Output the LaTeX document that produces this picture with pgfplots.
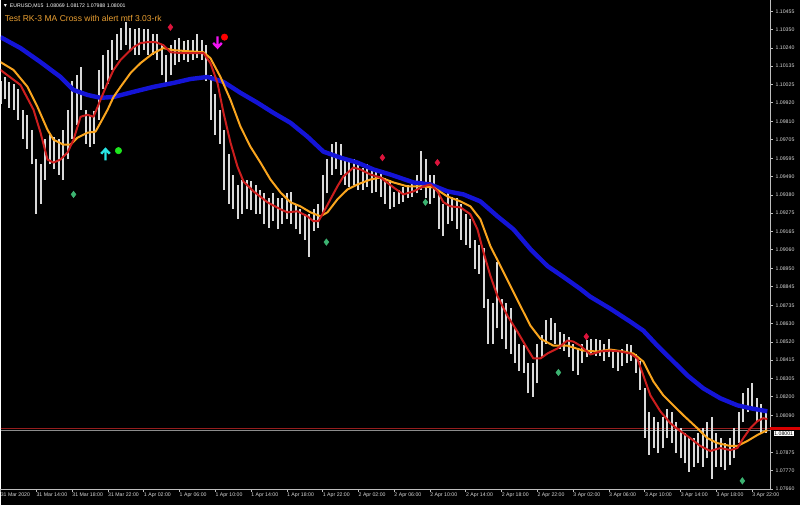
\documentclass[border=0pt]{standalone}
\usepackage{pgfplots}
\pgfplotsset{compat=1.18}
\usepackage{pgfplotstable}
\usepackage{fontspec}
\setmainfont{Liberation Sans}
\definecolor{maRed}{RGB}{205,30,30}
\definecolor{maOrange}{RGB}{250,165,30}
\definecolor{maBlue}{RGB}{20,20,215}
\definecolor{sigRed}{RGB}{220,20,60}
\definecolor{sigGreen}{RGB}{60,179,113}
\definecolor{sigCyan}{RGB}{40,230,230}
\definecolor{sigLime}{RGB}{30,230,30}
\definecolor{sigMag}{RGB}{240,20,240}
\definecolor{askRed}{RGB}{150,30,30}
\definecolor{axGray}{RGB}{190,190,190}
\definecolor{titleOr}{RGB}{235,160,50}
\newcommand\tinyf{\fontsize{3.9pt}{4.3pt}\selectfont}

\pgfdeclareplotmark{uparr}{%
  \pgfpathmoveto{\pgfqpoint{0pt}{-\pgfplotmarksize}}%
  \pgfpathlineto{\pgfqpoint{0pt}{0.9\pgfplotmarksize}}%
  \pgfpathmoveto{\pgfqpoint{-0.75\pgfplotmarksize}{0.15\pgfplotmarksize}}%
  \pgfpathlineto{\pgfqpoint{0pt}{0.95\pgfplotmarksize}}%
  \pgfpathlineto{\pgfqpoint{0.75\pgfplotmarksize}{0.15\pgfplotmarksize}}%
  \pgfusepathqstroke}
\pgfdeclareplotmark{downarr}{%
  \pgfpathmoveto{\pgfqpoint{0pt}{\pgfplotmarksize}}%
  \pgfpathlineto{\pgfqpoint{0pt}{-0.9\pgfplotmarksize}}%
  \pgfpathmoveto{\pgfqpoint{-0.75\pgfplotmarksize}{-0.15\pgfplotmarksize}}%
  \pgfpathlineto{\pgfqpoint{0pt}{-0.95\pgfplotmarksize}}%
  \pgfpathlineto{\pgfqpoint{0.75\pgfplotmarksize}{-0.15\pgfplotmarksize}}%
  \pgfusepathqstroke}

% 30-minute bars: hours since 31 Mar 10:00, low, high
\pgfplotstableread{
h lo hi
0 1.0991 1.1005
0.5 1.0994 1.1007
1 1.0989 1.1004
1.5 1.0988 1.1003
2 1.0982 1.1000
2.5 1.0971 1.0988
3 1.0965 1.0985
3.5 1.0956 1.0976
4 1.0927 1.0959
4.5 1.0933 1.0956
5 1.0947 1.0971
5.5 1.0956 1.0973
6 1.0953 1.0972
6.5 1.0950 1.0971
7 1.0947 1.0976
7.5 1.0959 1.0988
8 1.0971 1.1005
8.5 1.0979 1.1008
9 1.0988 1.1013
9.5 1.0968 1.0988
10 1.0966 1.0985
10.5 1.0968 1.0987
11 1.0982 1.1011
11.5 1.1000 1.1020
12 1.1003 1.1023
12.5 1.1011 1.1029
13 1.1017 1.1032
13.5 1.1023 1.1036
14 1.1026 1.1039
14.5 1.1023 1.1036
15 1.1020 1.1035
15.5 1.1020 1.1036
16 1.1023 1.1035
16.5 1.1020 1.1035
17 1.1020 1.1032
17.5 1.1017 1.1032
18 1.1008 1.1026
18.5 1.1003 1.1020
19 1.1008 1.1026
19.5 1.1014 1.1029
20 1.1016 1.1030
20.5 1.1017 1.1028
21 1.1016 1.1029
21.5 1.1017 1.1029
22 1.1018 1.1032
22.5 1.1017 1.1029
23 1.1005 1.1026
23.5 1.0982 1.1008
24 1.0973 1.0997
24.5 1.0968 1.0988
25 1.0941 1.0976
25.5 1.0933 1.0962
26 1.0930 1.0950
26.5 1.0924 1.0944
27 1.0927 1.0947
27.5 1.0930 1.0947
28 1.0929 1.0946
28.5 1.0927 1.0944
29 1.0927 1.0941
29.5 1.0921 1.0939
30 1.0919 1.0936
30.5 1.0923 1.0939
31 1.0918 1.0936
31.5 1.0921 1.0936
32 1.0924 1.0939
32.5 1.0921 1.0940
33 1.0918 1.0933
33.5 1.0915 1.0930
34 1.0912 1.0927
34.5 1.0902 1.0927
35 1.0917 1.0930
35.5 1.0919 1.0933
36 1.0927 1.0950
36.5 1.0939 1.0959
37 1.0950 1.0968
37.5 1.0953 1.0969
38 1.0950 1.0968
38.5 1.0944 1.0959
39 1.0943 1.0958
39.5 1.0944 1.0959
40 1.0941 1.0956
40.5 1.0941 1.0954
41 1.0943 1.0956
41.5 1.0939 1.0953
42 1.0940 1.0954
42.5 1.0937 1.0952
43 1.0933 1.0948
43.5 1.0930 1.0947
44 1.0931 1.0940
44.5 1.0933 1.0941
45 1.0934 1.0943
45.5 1.0936 1.0944
46 1.0937 1.0947
46.5 1.0939 1.0950
47 1.0941 1.0964
47.5 1.0936 1.0959
48 1.0933 1.0950
48.5 1.0936 1.0950
49 1.0918 1.0939
49.5 1.0914 1.0933
50 1.0921 1.0939
50.5 1.0923 1.0937
51 1.0918 1.0936
51.5 1.0912 1.0933
52 1.0909 1.0927
52.5 1.0907 1.0924
53 1.0895 1.0912
53.5 1.0892 1.0909
54 1.0872 1.0907
54.5 1.0851 1.0877
55 1.0851 1.0875
55.5 1.0860 1.0899
56 1.0854 1.0877
56.5 1.0848 1.0875
57 1.0845 1.0872
57.5 1.0840 1.0860
58 1.0835 1.0851
58.5 1.0834 1.0850
59 1.0822 1.0840
59.5 1.0820 1.0840
60 1.0828 1.0851
60.5 1.0843 1.0856
61 1.0851 1.0865
61.5 1.0853 1.0866
62 1.0851 1.0863
62.5 1.0848 1.0858
63 1.0847 1.0857
63.5 1.0843 1.0855
64 1.0835 1.0851
64.5 1.0833 1.0848
65 1.0840 1.0851
65.5 1.0843 1.0853
66 1.0845 1.0854
66.5 1.0844 1.0854
67 1.0844 1.0853
67.5 1.0841 1.0851
68 1.0843 1.0854
68.5 1.0837 1.0848
69 1.0835 1.0847
69.5 1.0838 1.0848
70 1.0840 1.0851
70.5 1.0841 1.0850
71 1.0834 1.0845
71.5 1.0824 1.0841
72 1.0796 1.0825
72.5 1.0786 1.0811
73 1.0790 1.0808
73.5 1.0787 1.0805
74 1.0790 1.0808
74.5 1.0796 1.0813
75 1.0793 1.0811
75.5 1.0787 1.0805
76 1.0784 1.0802
76.5 1.0781 1.0799
77 1.0776 1.0796
77.5 1.0779 1.0796
78 1.0781 1.0799
78.5 1.0779 1.0802
79 1.0784 1.0805
79.5 1.0772 1.0808
80 1.0779 1.0799
80.5 1.0779 1.0796
81 1.0777 1.0793
81.5 1.0780 1.0796
82 1.0784 1.0802
82.5 1.0793 1.0811
83 1.0805 1.0822
83.5 1.0811 1.0825
84 1.0813 1.0828
84.5 1.0805 1.0819
85 1.0799 1.0816
85.5 1.0799 1.0813
}\bars

\pgfplotstableread{
h p
0 1.10112
2.23 1.10024
3.69 1.09879
4.47 1.09745
5.25 1.09588
5.92 1.09570
6.70 1.09588
7.49 1.09629
8.16 1.09704
8.94 1.09838
9.72 1.09850
10.39 1.09838
11.17 1.09937
11.96 1.10036
12.63 1.10112
13.41 1.10170
14.19 1.10211
14.86 1.10245
15.64 1.10269
16.42 1.10275
17.32 1.10275
18.21 1.10257
18.99 1.10216
20.11 1.10211
21.23 1.10211
22.68 1.10211
23.46 1.10152
24.25 1.10036
24.92 1.09861
25.70 1.09687
26.48 1.09547
27.15 1.09460
28.27 1.09402
29.83 1.09338
31.28 1.09297
32.07 1.09279
33.18 1.09285
34.30 1.09256
34.97 1.09227
35.53 1.09227
36.09 1.09279
36.87 1.09355
37.65 1.09431
38.32 1.09489
39.44 1.09541
40.22 1.09530
41.34 1.09500
42.46 1.09483
43.91 1.09425
45.03 1.09384
46.15 1.09402
47.26 1.09431
48.04 1.09442
48.83 1.09402
49.50 1.09338
50.28 1.09314
51.40 1.09308
52.51 1.09268
53.30 1.09180
53.97 1.09047
54.75 1.08907
55.53 1.08790
56.65 1.08674
57.77 1.08581
58.88 1.08482
59.55 1.08424
60.34 1.08424
61.12 1.08453
62.23 1.08482
63.35 1.08529
64.02 1.08523
64.80 1.08499
65.92 1.08447
67.04 1.08465
68.16 1.08470
69.27 1.08465
70.39 1.08453
71.17 1.08424
71.84 1.08325
72.63 1.08208
73.74 1.08115
74.86 1.08045
75.98 1.07999
77.09 1.07958
78.21 1.07912
79.33 1.07883
80.45 1.07900
81.56 1.07888
82.35 1.07900
83.02 1.07958
83.80 1.08016
84.58 1.08057
85.25 1.08075
85.70 1.08069
}\maFast

\pgfplotstableread{
h p
0 1.10158
1.45 1.10112
3.02 1.10013
4.13 1.09896
5.25 1.09762
5.92 1.09704
7.04 1.09675
7.82 1.09675
8.60 1.09716
9.72 1.09745
10.61 1.09751
11.17 1.09803
11.96 1.09879
12.63 1.09954
13.41 1.10013
14.53 1.10094
15.64 1.10152
17.09 1.10211
18.21 1.10240
19.33 1.10228
20.89 1.10222
22.68 1.10216
23.46 1.10181
24.58 1.10071
25.70 1.09937
26.82 1.09780
27.93 1.09663
29.05 1.09570
30.17 1.09471
31.28 1.09396
32.40 1.09338
33.52 1.09314
34.64 1.09279
35.75 1.09256
36.54 1.09279
37.65 1.09355
38.77 1.09413
39.89 1.09442
41.34 1.09471
42.46 1.09483
43.91 1.09454
45.47 1.09431
46.93 1.09431
48.38 1.09425
49.94 1.09372
51.40 1.09343
52.51 1.09314
53.63 1.09239
54.75 1.09081
55.87 1.08965
56.98 1.08849
58.10 1.08732
59.22 1.08616
60.34 1.08540
61.79 1.08499
63.35 1.08499
65.14 1.08470
66.70 1.08465
68.16 1.08476
69.61 1.08465
70.73 1.08453
71.84 1.08406
72.96 1.08290
74.08 1.08208
75.20 1.08150
76.31 1.08092
77.88 1.08016
78.99 1.07958
80.11 1.07929
81.56 1.07912
82.35 1.07912
83.46 1.07941
84.58 1.07976
85.70 1.08005
}\maMid

\pgfplotstableread{
h p
0 1.10304
2.23 1.10240
4.47 1.10158
6.70 1.10071
8.16 1.09995
9.72 1.09966
11.17 1.09949
12.63 1.09954
14.86 1.09984
17.09 1.10013
19.33 1.10036
21.23 1.10059
23.13 1.10071
24.92 1.10042
26.82 1.09978
28.72 1.09920
30.50 1.09861
32.40 1.09803
34.30 1.09722
36.09 1.09634
37.99 1.09599
39.89 1.09570
41.68 1.09530
43.58 1.09500
46.15 1.09454
48.04 1.09442
49.94 1.09402
51.73 1.09384
53.63 1.09343
55.53 1.09256
57.32 1.09180
59.22 1.09064
61.12 1.08965
62.91 1.08901
64.80 1.08831
65.92 1.08785
68.16 1.08715
70.39 1.08639
71.84 1.08587
73.41 1.08499
74.86 1.08424
76.76 1.08325
78.55 1.08249
80.45 1.08191
82.35 1.08150
83.80 1.08133
85.70 1.08115
}\maSlow

\begin{document}
\begin{tikzpicture}
\fill[black] (0,0) rectangle (600pt,378.75pt);
\begin{axis}[
  name=ax, at={(0pt,12pt)}, anchor=south west,
  scale only axis, width=577.5pt, height=366.75pt,
  xmin=0, xmax=86, ymin=1.07660, ymax=1.10519,
  axis x line*=bottom, axis y line*=right,
  axis line style={axGray, line width=0.6pt},
  tick style={axGray, line width=0.5pt},
  tick align=outside, major tick length=2.2pt,
  scaled y ticks=false, scaled x ticks=false,
  xtick={0,4,...,84},
  xticklabels={31 Mar 2020, 31 Mar 14:00, 31 Mar 18:00, 31 Mar 22:00, 1 Apr 02:00, 1 Apr 06:00, 1 Apr 10:00, 1 Apr 14:00, 1 Apr 18:00, 1 Apr 22:00, 2 Apr 02:00, 2 Apr 06:00, 2 Apr 10:00, 2 Apr 14:00, 2 Apr 18:00, 2 Apr 22:00, 3 Apr 02:00, 3 Apr 06:00, 3 Apr 10:00, 3 Apr 14:00, 3 Apr 18:00, 3 Apr 22:00},
  ytick={1.07660,1.07770,1.07875,1.08090,1.08200,1.08305,1.08415,1.08520,1.08630,1.08735,1.08845,1.08950,1.09060,1.09165,1.09275,1.09380,1.09490,1.09595,1.09705,1.09810,1.09920,1.10025,1.10135,1.10240,1.10350,1.10455},
  yticklabels={1.07660,1.07770,1.07875,1.08090,1.08200,1.08305,1.08415,1.08520,1.08630,1.08735,1.08845,1.08950,1.09060,1.09165,1.09275,1.09380,1.09490,1.09595,1.09705,1.09810,1.09920,1.10025,1.10135,1.10240,1.10350,1.10455},
  ticklabel style={font=\tinyf, text=white!85!black},
  xticklabel style={anchor=north west, inner sep=0.6pt, xshift=-0.6pt},
  yticklabel style={anchor=west, inner sep=0.6pt, xshift=1.2pt},
  clip=true,
]
\addplot[askRed, line width=0.7pt] coordinates {(0,1.08017) (86,1.08017)};
\addplot[white!55!black, line width=0.5pt] coordinates {(0,1.08001) (86,1.08001)};
\addplot[draw=none, mark=none,
  error bars/.cd, y dir=plus, y explicit, error mark=none,
  error bar style={draw=white!85!black, line width=1.5pt}]
  table[x=h, y=lo, y error plus expr=\thisrow{hi}-\thisrow{lo}] {\bars};
\addplot[maBlue, line width=3.3pt, line join=round] table[x=h, y=p] {\maSlow};
\addplot[maOrange, line width=1.5pt, line join=round] table[x=h, y=p] {\maMid};
\addplot[maRed, line width=1.5pt, line join=round] table[x=h, y=p] {\maFast};
\addplot[only marks, mark=diamond*, mark size=2.4pt, color=sigRed, mark options={fill=sigRed}]
  coordinates {(18.99,1.10362) (42.68,1.09599) (48.83,1.09570) (65.47,1.08552)};
\addplot[only marks, mark=diamond*, mark size=2.4pt, color=sigGreen, mark options={fill=sigGreen}]
  coordinates {(8.16,1.09384) (36.42,1.09105) (47.49,1.09338) (62.35,1.08342) (82.91,1.07708)};
\addplot[only marks, mark=uparr, mark size=4.3pt, color=sigCyan, line width=1.8pt]
  coordinates {(11.73,1.09617)};
\addplot[only marks, mark=*, mark size=2.4pt, color=sigLime, mark options={fill=sigLime}]
  coordinates {(13.18,1.09640)};
\addplot[only marks, mark=downarr, mark size=4.3pt, color=sigMag, line width=1.8pt]
  coordinates {(24.25,1.10275)};
\addplot[only marks, mark=*, mark size=2.4pt, color=red, mark options={fill=red}]
  coordinates {(25.03,1.10304)};
\coordinate (pa) at (axis cs:86,1.08017);
\coordinate (pb) at (axis cs:86,1.08001);
\end{axis}
\fill[red!85!black] ([yshift=-1.1pt]pa) rectangle ([xshift=22.5pt,yshift=1.1pt]pa);
\node[fill=white, inner sep=0.5pt, anchor=west, font=\tinyf, text=black] at ([xshift=2.5pt,yshift=-2.2pt]pb) {1.08001};
\node[anchor=west, inner sep=0pt, font=\tinyf, text=white] at (1.5pt,374.9pt) {▼\hspace{1.5pt}EURUSD,M15\hspace{2pt}1.08069 1.08172 1.07988 1.08001};
\node[anchor=west, inner sep=0pt, font=\fontsize{6.4pt}{7pt}\selectfont, text=titleOr] at (3pt,365pt) {Test RK-3 MA Cross with alert mtf 3.03-rk};
\end{tikzpicture}
\end{document}
